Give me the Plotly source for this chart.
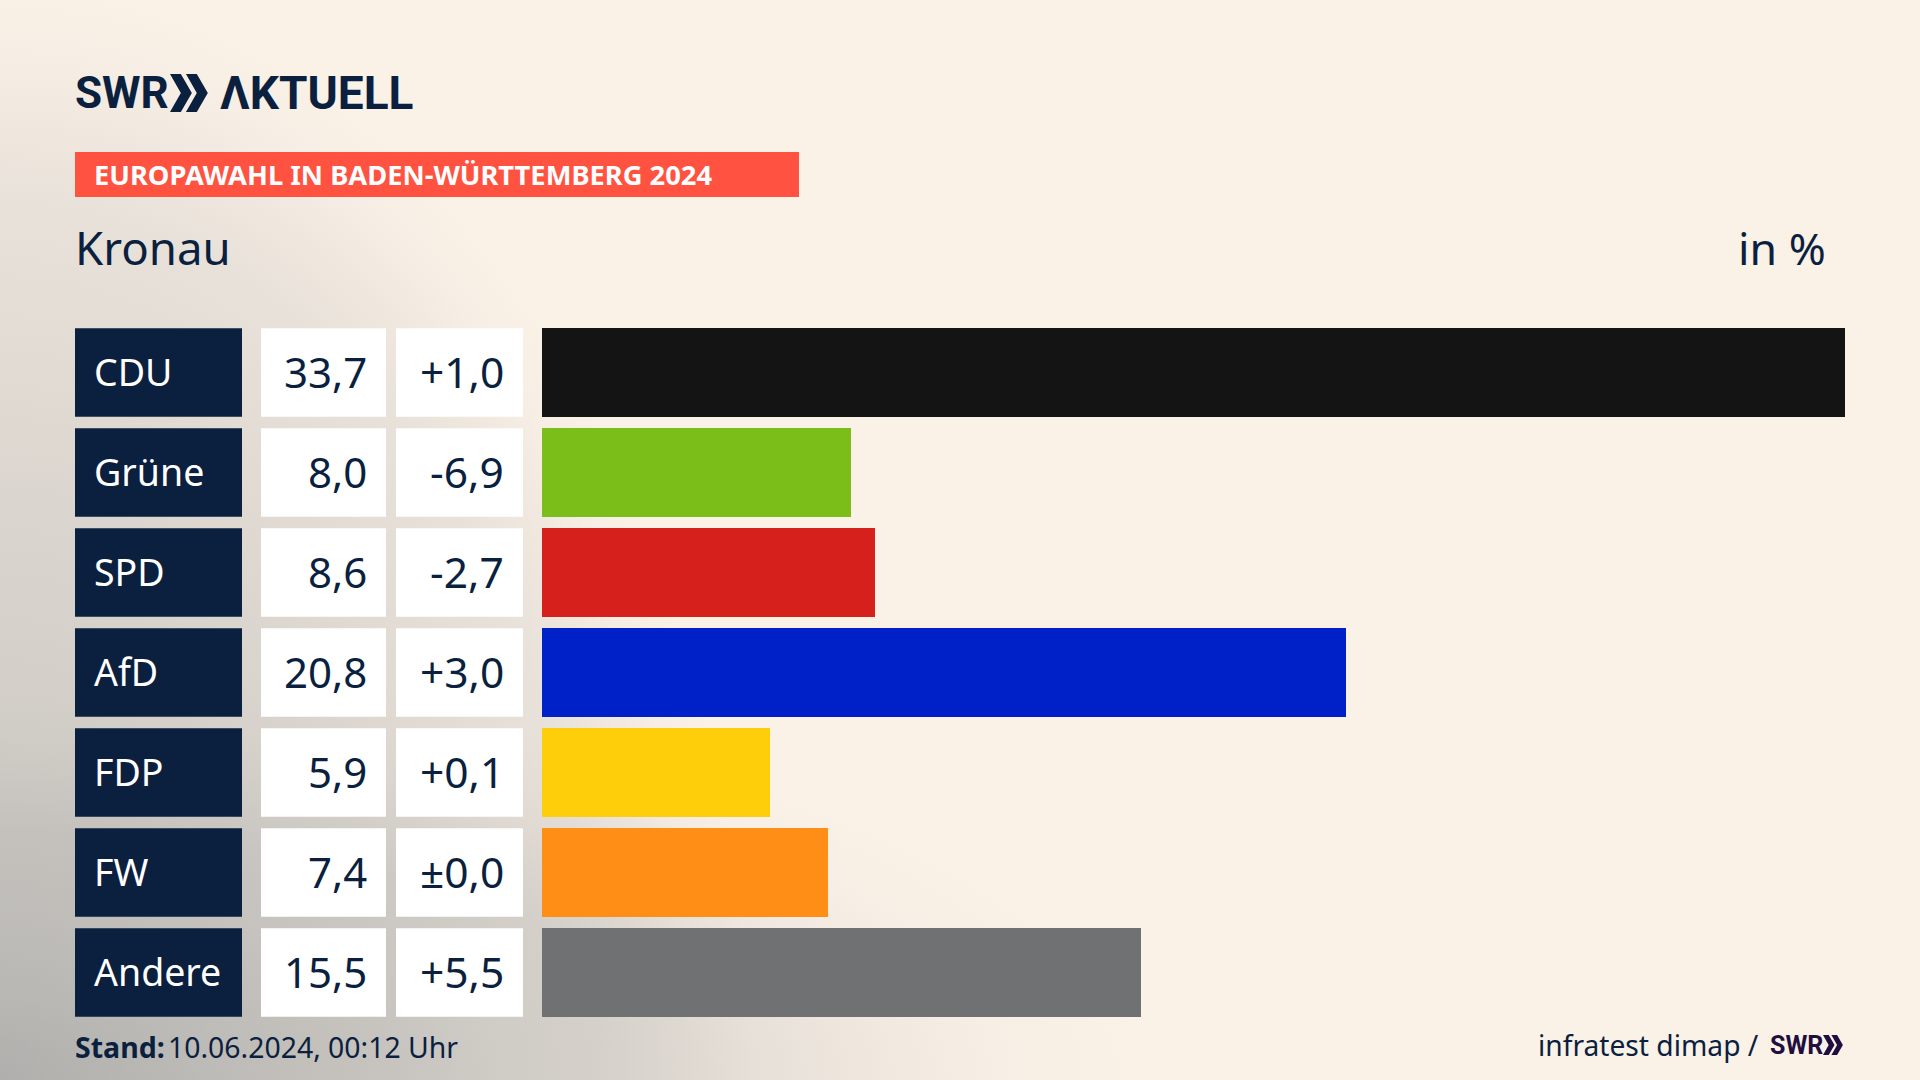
import plotly.graph_objects as go

parties = ["CDU", "Grüne", "SPD", "AfD", "FDP", "FW", "Andere"]
shares = [33.7, 8.0, 8.6, 20.8, 5.9, 7.4, 15.5]
share_labels = ["33,7", "8,0", "8,6", "20,8", "5,9", "7,4", "15,5"]
change_labels = ["+1,0", "-6,9", "-2,7", "+3,0", "+0,1", "±0,0", "+5,5"]
bar_colors = ["#141414", "#7BBD19", "#D6201C", "#0021C8", "#FFCE0A", "#FF8E17", "#707173"]

NAVY = "#0B1F3F"
CREAM = "#FAF1E7"
FONT = "Noto Sans"
GLOW = "171,171,169"

wide_glow = [(0, .76), (.2, .5), (.43, .34), (.61, .3), (.7, .2), (.78, .11), (.87, .04), (1, 0)]
tall_glow = [(0, .76), (.07, .66), (.255, .54), (.527, .4), (.67, .3), (.8, .22), (.93, .05), (1, 0)]

fig = go.Figure()


def add_glow(rx, ry, stops):
    # soft grey glow centred on the lower left corner of the canvas
    fig.add_trace(go.Scatter(
        x=[-rx, rx, rx, -rx, -rx],
        y=[1080 - ry, 1080 - ry, 1080 + ry, 1080 + ry, 1080 - ry],
        mode="lines", line=dict(width=0), fill="toself", hoverinfo="skip", showlegend=False,
        fillcolor="rgba(0,0,0,0)",
        fillgradient=dict(type="radial", colorscale=[[p, f"rgba({GLOW},{a})"] for p, a in stops]),
        xaxis="x", yaxis="y",
    ))


add_glow(750, 1100, tall_glow)
add_glow(1150, 400, wide_glow)

fig.add_trace(go.Bar(
    x=shares, y=parties, orientation="h", marker=dict(color=bar_colors, line_width=0),
    width=0.89, hoverinfo="skip", showlegend=False, xaxis="x2", yaxis="y2",
))

shapes = []
annotations = []


def add_text(x, y, text, size, color=NAVY, anchor="left", xref="x", yref="y", family=FONT, yshift=0):
    annotations.append(dict(
        x=x, y=y, xref=xref, yref=yref, text=text, showarrow=False, xanchor=anchor, yanchor="middle",
        font=dict(family=family, size=size, color=color), yshift=yshift,
    ))


def chevrons(x, y, h, color):
    # two arrow heads of the SWR logo
    w = h * 0.46
    out = []
    for dx in (0, h * 0.42):
        x0 = x + dx
        out.append(dict(
            type="path", xref="x", yref="y", layer="above", fillcolor=color, line_width=0,
            path=f"M {x0} {y} L {x0 + w * 0.62} {y} L {x0 + w * 1.25} {y + h / 2} "
                 f"L {x0 + w * 0.62} {y + h} L {x0} {y + h} L {x0 + w * 0.62} {y + h / 2} Z",
        ))
    return out


# table cells left of the bars
for i, name in enumerate(parties):
    for x0, x1, col in [(75, 242, NAVY), (261, 386, "#FFFFFF"), (396, 523, "#FFFFFF")]:
        shapes.append(dict(type="rect", xref="x", yref="y2", x0=x0, x1=x1, y0=i - 0.4325, y1=i + 0.4525,
                           fillcolor=col, line_width=0, layer="above"))
    add_text(91.5, name, name, 37.5, color="#FFFFFF", yref="y2", yshift=0.5)
    add_text(368.5, name, share_labels[i], 42, anchor="right", yref="y2", yshift=0.5)
    add_text(505.5, name, change_labels[i], 42.5, anchor="right", yref="y2", yshift=0.5)

# header
add_text(72.5, 93, "<b>SWR</b>", 44, family="Roboto")
shapes += chevrons(170, 74, 38, NAVY)
add_text(217.5, 93, "<b>ΛKTUELL</b>", 46, family="Roboto")
shapes.append(dict(type="rect", xref="x", yref="y", x0=75, x1=799, y0=152, y1=197,
                   fillcolor="#FF5240", line_width=0, layer="above"))
add_text(91.5, 174.5, "<b>EUROPAWAHL IN BADEN-WÜRTTEMBERG 2024</b>", 27.3, color="#FFFFFF")
add_text(73, 247, "Kronau", 45.6)
add_text(1828, 247, "in %", 44.6, anchor="right")

# footer
add_text(72.5, 1047, "<b>Stand:</b>", 28.5)
add_text(165.5, 1047, "10.06.2024, 00:12 Uhr", 28.4)
add_text(1761, 1045, "infratest dimap /", 28.2, anchor="right")
add_text(1767.5, 1045, "<b>SWR</b>", 25, color="#1E0F40", family="Roboto")
shapes += chevrons(1823, 1035, 20, "#1E0F40")

hidden = dict(visible=False, fixedrange=True)
fig.update_layout(
    width=1920, height=1080, margin=dict(l=0, r=0, t=0, b=0),
    paper_bgcolor=CREAM, plot_bgcolor="rgba(0,0,0,0)",
    showlegend=False, bargap=0,
    xaxis=dict(range=[0, 1920], domain=[0, 1], **hidden),
    yaxis=dict(range=[1080, 0], domain=[0, 1], **hidden),
    xaxis2=dict(range=[0, 33.7], domain=[542 / 1920, 1845 / 1920], anchor="y2", **hidden),
    yaxis2=dict(categoryorder="array", categoryarray=parties, range=[6.5, -0.5], type="category",
                domain=[1 - 1021.5 / 1080, 1 - 321.5 / 1080], anchor="x2", **hidden),
    shapes=shapes, annotations=annotations,
)

fig.write_html("out.html", config=dict(displayModeBar=False),
               post_script="document.body.style.margin='0';document.body.style.overflow='hidden';")
